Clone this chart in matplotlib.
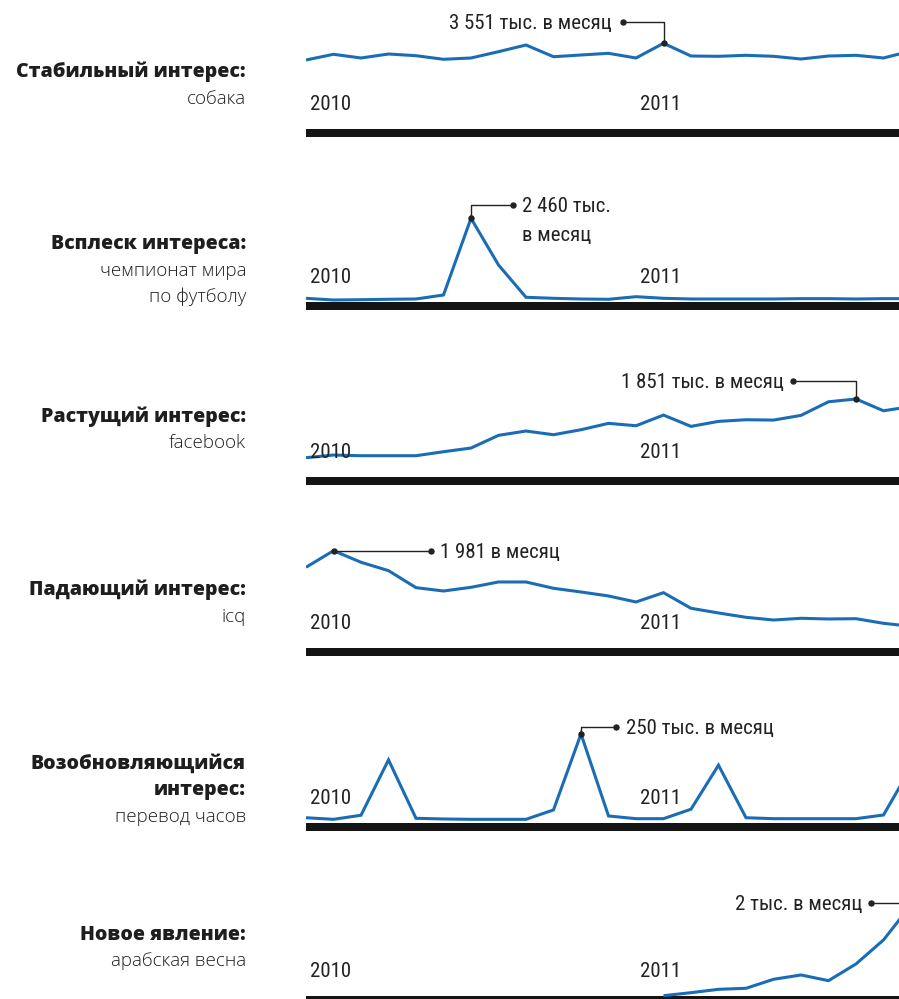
import matplotlib
matplotlib.use('Agg')
import matplotlib.pyplot as plt
from matplotlib.lines import Line2D
from matplotlib import font_manager as fm
import numpy as np

# ---------------- data (monthly, Dec 2009 .. Oct 2011) ----------------
months = np.arange(23)
year_labels = ['2010', '2011']
year_label_x = [0.15, 12.15]

dog = [2859, 3095, 2942, 3107, 3037, 2888, 2942, 3203, 3480, 2995, 3066, 3136,
       2942, 3551, 3024, 3012, 3053, 3012, 2900, 3024, 3053, 2942, 3232]
worldcup = [100, 50, 59, 71, 80, 198, 2460, 1083, 130, 100, 80, 71,
            148, 100, 80, 80, 80, 80, 90, 90, 80, 90, 90]
facebook = [452, 516, 500, 500, 500, 595, 683, 985, 1088, 1000, 1119, 1271,
            1214, 1468, 1199, 1318, 1357, 1349, 1461, 1785, 1851, 1571, 1671]
icq = [1644, 1981, 1746, 1576, 1231, 1163, 1238, 1346, 1346, 1218, 1143, 1062,
       940, 1129, 812, 717, 629, 574, 609, 595, 601, 507, 447]
clocks = [14, 9.5, 21, 177, 12.4, 10.5, 9.5, 9.5, 9.5, 36, 250, 19,
          11.3, 11.3, 38, 162, 14, 11.3, 11.3, 11.3, 11.3, 21.7, 156]
arab = [np.nan] * 13 + [7, 73, 147, 169, 367, 462, 337, 704, 1232, 2000]

series = [dog, worldcup, facebook, icq, clocks, arab]

titles = [["Стабильный интерес:"],
          ["Всплеск интереса:"],
          ["Растущий интерес:"],
          ["Падающий интерес:"],
          ["Возобновляющийся", "интерес:"],
          ["Новое явление:"]]
subtitles = [["собака"],
             ["чемпионат мира", "по футболу"],
             ["facebook"],
             ["icq"],
             ["перевод часов"],
             ["арабская весна"]]
notes = [["3 551 тыс. в месяц"],
         ["2 460 тыс.", "в месяц"],
         ["1 851 тыс. в месяц"],
         ["1 981 в месяц"],
         ["250 тыс. в месяц"],
         ["2 тыс. в месяц"]]

# ---------------- fonts ----------------
installed = {f.name for f in fm.fontManager.ttflist}
cond_candidates = ['Roboto Condensed', 'Liberation Sans Narrow', 'DejaVu Sans Condensed',
                   'Open Sans Condensed', 'Noto Sans Display']
cond_name = next((c for c in cond_candidates if c in installed), None)
if cond_name is None:
    cond = ['DejaVu Sans']
    cond_stretch = 'condensed'
    cond_size = 12.5
else:
    cond = [cond_name, 'DejaVu Sans']
    cond_stretch = 'normal'
    cond_size = 15
sans = ['Open Sans', 'DejaVu Sans']

# ---------------- layout ----------------
W, H = 899, 999
fig = plt.figure(figsize=(W / 100, H / 100), dpi=100)
fig.patch.set_facecolor('white')

BLUE = '#1a6db5'
DARK = '#222222'

bar_tops = [129, 301.7, 476.7, 648.3, 822.7, 996]   # pixel y of zero line
ymax = [5179, 3687, 2978, 2537, 352, 2747]            # value at 125 px above zero
title_base = [77, 249, 422, 595, 769, 940]
LINE = 26.5
AX_L, AX_R = 306, 899
XMAX = (AX_R - AX_L) / 27.5

# annotation layout: (dot_x, dot_y or None, text side, gap)
note_layout = [(623, 22, 'left', 11),
               (513, 205, 'right', 9),
               (793, 381, 'left', 9),
               (431, None, 'right', 9),
               (616, 727, 'right', 10),
               (871, 903, 'left', 9)]


def fx(px):
    return px / W


def fy(py):
    return 1 - py / H


for k in range(6):
    top = bar_tops[k]
    k_unit = ymax[k] / 125.0
    ax = fig.add_axes([fx(AX_L), fy(top + 8), fx(AX_R - AX_L), 133 / H])
    ax.set_xlim(0, XMAX)
    ax.set_ylim(-8 * k_unit, ymax[k])
    ax.axis('off')
    ax.axhspan(-8 * k_unit, 0, color='#141414', lw=0)
    ax.plot(months, series[k], color=BLUE, lw=2.2, solid_joinstyle='miter',
            solid_capstyle='butt', zorder=3)
    for lab, xl in zip(year_labels, year_label_x):
        ax.annotate(lab, xy=(xl, 0), xytext=(0, 19 * 0.72), textcoords='offset points',
                    ha='left', va='baseline', fontsize=cond_size, color=DARK,
                    family=cond, fontstretch=cond_stretch)

    # left labels
    y = title_base[k]
    for t in titles[k]:
        fig.text(fx(246), fy(y), t, ha='right', va='baseline', fontsize=14,
                 fontweight=800, color='#1e1e1e', family=sans)
        y += LINE
    for s in subtitles[k]:
        fig.text(fx(246), fy(y), s, ha='right', va='baseline', fontsize=13.5,
                 fontweight='light', color='#1e1e1e', family=sans)
        y += LINE

    # peak annotation
    vals = np.array(series[k], dtype=float)
    ip = int(np.nanargmax(vals))
    disp = ax.transData.transform((months[ip], vals[ip]))
    pfx, pfy = fig.transFigure.inverted().transform(disp)
    dot_x, dot_y, side, gap = note_layout[k]
    dfx = fx(dot_x)
    dfy = pfy if dot_y is None else fy(dot_y)
    fig.add_artist(Line2D([dfx, pfx, pfx], [dfy, dfy, pfy], transform=fig.transFigure,
                          color='#222222', lw=1.0, zorder=5))
    fig.add_artist(Line2D([dfx, pfx], [dfy, pfy], transform=fig.transFigure,
                          ls='none', marker='o', ms=3.6, color='#222222', zorder=6))
    dot_py = (1 - dfy) * H
    ty = dot_py + 7
    for line in notes[k]:
        if side == 'left':
            fig.text(fx(dot_x - gap), fy(ty), line, ha='right', va='baseline',
                     fontsize=cond_size, color=DARK, family=cond, fontstretch=cond_stretch)
        else:
            fig.text(fx(dot_x + gap), fy(ty), line, ha='left', va='baseline',
                     fontsize=cond_size, color=DARK, family=cond, fontstretch=cond_stretch)
        ty += 29

fig.savefig('out.png', dpi=100, facecolor='white')
